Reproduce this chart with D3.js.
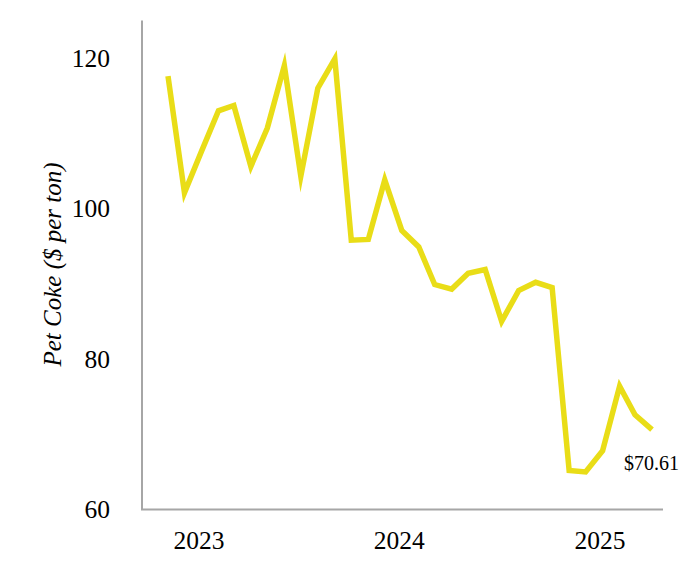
<!DOCTYPE html>
<html>
<head>
<meta charset="utf-8">
<script src="https://cdn.jsdelivr.net/npm/d3@7"></script>
<style>
  html, body { margin: 0; padding: 0; background: #fff; }
  svg { display: block; }
  text { font-family: "Liberation Serif", "Times New Roman", Times, serif; fill: #000; }
</style>
</head>
<body>
<svg id="chart" width="682" height="576"></svg>
<script>
// Monthly categories (Nov 2022 – Apr 2025)
const months = [
  "2022-11","2022-12","2023-01","2023-02","2023-03","2023-04","2023-05","2023-06",
  "2023-07","2023-08","2023-09","2023-10","2023-11","2023-12","2024-01","2024-02",
  "2024-03","2024-04","2024-05","2024-06","2024-07","2024-08","2024-09","2024-10",
  "2024-11","2024-12","2025-01","2025-02","2025-03","2025-04"
];
// Pet coke price, $ per ton
const petCoke = [
  117.6, 102.1, 107.6, 113.0, 113.7, 105.6, 110.7, 119.0,
  104.3, 116.0, 119.9, 95.8, 95.9, 103.8, 97.1, 94.9,
  89.9, 89.3, 91.4, 91.9, 85.0, 89.1, 90.2, 89.5,
  65.2, 65.0, 67.8, 76.4, 72.6, 70.61
];
const yTicks = [60, 80, 100, 120];
const xTickLabels = ["2023", "2024", "2025"];
const lastLabel = "$70.61";
const yTitle = "Pet Coke ($ per ton)";

const parse = d3.timeParse("%Y-%m");
const dates = months.map(parse);
const data = dates.map((d, i) => ({ date: d, value: petCoke[i] }));

const svg = d3.select("#chart");
const axisLeftX = 142, axisBottomY = 509.5, axisTopY = 20.5, axisRightX = 663;

const x = d3.scaleTime()
  .domain(d3.extent(dates))
  .range([168, 652]);
const y = d3.scaleLinear()
  .domain([60, 125])
  .range([axisBottomY, axisTopY]);

// Axis frame lines
svg.append("line")
  .attr("x1", axisLeftX).attr("x2", axisLeftX)
  .attr("y1", axisTopY).attr("y2", axisBottomY)
  .attr("stroke", "#a6a6a6").attr("stroke-width", 2);
svg.append("line")
  .attr("x1", axisLeftX - 1).attr("x2", axisRightX)
  .attr("y1", axisBottomY).attr("y2", axisBottomY)
  .attr("stroke", "#a6a6a6").attr("stroke-width", 2);

// Y axis labels
const yAxis = svg.append("g")
  .attr("transform", `translate(${axisLeftX},0)`)
  .call(d3.axisLeft(y).tickValues(yTicks).tickSize(0).tickPadding(32).tickFormat(d3.format("d")));
yAxis.select(".domain").remove();
yAxis.selectAll("text").style("font-size", "25.5px").style("font-family", null).attr("fill", "#000");

// X axis labels
const yearDates = xTickLabels.map(s => d3.timeParse("%Y")(s));
const xAxis = svg.append("g")
  .attr("transform", `translate(0,${axisBottomY})`)
  .call(d3.axisBottom(x).tickValues(yearDates).tickSize(0).tickPadding(21).tickFormat(d3.timeFormat("%Y")));
xAxis.select(".domain").remove();
xAxis.selectAll("text").style("font-size", "25.5px").style("font-family", null).attr("fill", "#000")
  .attr("dx", "-3");

// Y axis title
svg.append("text")
  .attr("transform", `translate(60.5,264.5) rotate(-90)`)
  .attr("text-anchor", "middle")
  .style("font-size", "25px")
  .style("font-style", "italic")
  .text(yTitle);

// Line
const line = d3.line().x(d => x(d.date)).y(d => y(d.value));
svg.append("path")
  .datum(data)
  .attr("d", line)
  .attr("fill", "none")
  .attr("stroke", "#e9dd17")
  .attr("stroke-width", 5.5)
  .attr("stroke-linejoin", "miter")
  .attr("stroke-miterlimit", 10)
  .attr("stroke-linecap", "butt");

// Last value annotation
const last = data[data.length - 1];
svg.append("text")
  .attr("x", x(last.date) + 27)
  .attr("y", y(last.value) + 40)
  .attr("text-anchor", "end")
  .style("font-size", "20px")
  .text(lastLabel);
</script>
</body>
</html>
